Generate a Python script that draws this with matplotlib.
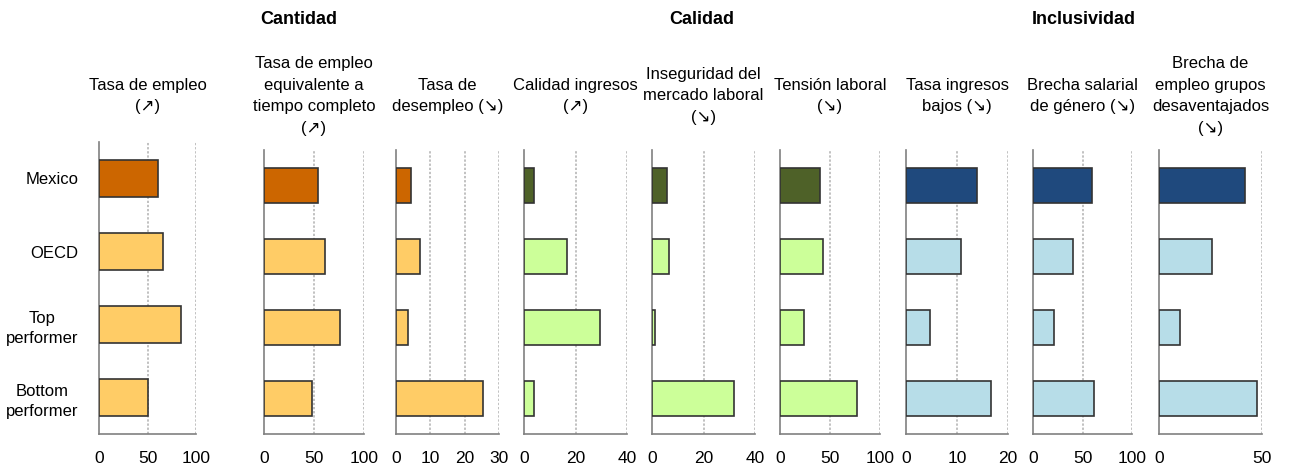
import matplotlib
matplotlib.use("Agg")
import matplotlib.pyplot as plt

plt.rcParams['font.family'] = ['Liberation Sans Narrow', 'Liberation Sans', 'DejaVu Sans']

categories = ["Mexico", "OECD", "Top\nperformer", "Bottom\nperformer"]

titles = [
    "Tasa de empleo\n(\u2197)",
    "Tasa de empleo\nequivalente a\ntiempo completo\n(\u2197)",
    "Tasa de\ndesempleo (\u2198)",
    "Calidad ingresos\n(\u2197)",
    "Inseguridad del\nmercado laboral\n(\u2198)",
    "Tensión laboral\n(\u2198)",
    "Tasa ingresos\nbajos (\u2198)",
    "Brecha salarial\nde género (\u2198)",
    "Brecha de\nempleo grupos\ndesaventajados\n(\u2198)",
]

# values: Mexico, OECD, Top performer, Bottom performer
empleo = [61, 66, 85, 50]
empleo_tc = [54, 61, 76, 48]
desempleo = [4.4, 7.1, 3.6, 25.2]
calidad_ingresos = [4.0, 16.6, 29.5, 4.0]
inseguridad = [5.7, 6.5, 1.0, 32]
tension = [40, 42.5, 24, 77]
ingresos_bajos = [14.0, 10.8, 4.8, 16.6]
brecha_salarial = [60, 40, 21.5, 61.5]
brecha_empleo = [41.9, 25.7, 10.2, 47.4]

series = [empleo, empleo_tc, desempleo, calidad_ingresos, inseguridad,
          tension, ingresos_bajos, brecha_salarial, brecha_empleo]
ticks = [[0, 50, 100], [0, 50, 100], [0, 10, 20, 30], [0, 20, 40], [0, 20, 40],
         [0, 50, 100], [0, 10, 20], [0, 50, 100], [0, 50]]
groups = ["Cantidad", "Calidad", "Inclusividad"]
group_of = [0, 0, 0, 1, 1, 1, 2, 2, 2]

dark = ["#CC6600", "#4E6128", "#1F497D"]
light = ["#FFCC66", "#CCFF99", "#B7DDE8"]

W, H = 1289, 468
fig = plt.figure(figsize=(W / 100, H / 100), dpi=100)

# pixel extents of each panel (left, right)
xs = [(99, 196), (264, 364), (396, 499), (524, 627), (652, 755),
      (780, 880), (906, 1008), (1033, 1132), (1159, 1262)]
tops = [142] + [150] * 8
bottom = 434

axes = []
for i, vals in enumerate(series):
    x0, x1 = xs[i]
    ax = fig.add_axes([x0 / W, 1 - bottom / H, (x1 - x0) / W, (bottom - tops[i]) / H])
    g = group_of[i]
    colors = [dark[g]] + [light[g]] * 3
    ax.barh(range(4), vals, height=0.5, color=colors, edgecolor="#333333",
            linewidth=1.2, zorder=3)
    ax.set_ylim(3.5, -0.5)
    ax.set_xlim(0, ticks[i][-1])
    ax.set_xticks(ticks[i])
    ax.set_xticklabels([str(t) for t in ticks[i]], fontsize=12.5)
    for t in ticks[i][1:]:
        ax.axvline(t, color="#B0B0B0", linestyle=(0, (1.5, 1.2)), linewidth=1.1, zorder=1)
    ax.tick_params(axis="x", length=0, pad=12)
    for s in ["top", "right"]:
        ax.spines[s].set_visible(False)
    for s in ["left", "bottom"]:
        ax.spines[s].set_color("#808080")
        ax.spines[s].set_linewidth(1.2)
    if i == 0:
        ax.set_yticks(range(4))
        ax.set_yticklabels(categories, fontsize=12, multialignment="center",
                           linespacing=1.45)
        ax.tick_params(axis="y", length=0, pad=15)
    else:
        ax.set_yticks([])
    ax.patch.set_alpha(0)
    fig.text((x0 + x1) / 2 / W, 1 - 96 / H, titles[i], ha="center", va="center",
             fontsize=12, linespacing=1.55)
    axes.append(ax)

group_centers = [(99 + 499) / 2, (524 + 880) / 2, (906 + 1262) / 2]
for name, cx in zip(groups, group_centers):
    fig.text(cx / W, 1 - 20 / H, name, ha="center", va="center",
             fontsize=13, fontweight="bold")

fig.savefig("out.png", dpi=100)
